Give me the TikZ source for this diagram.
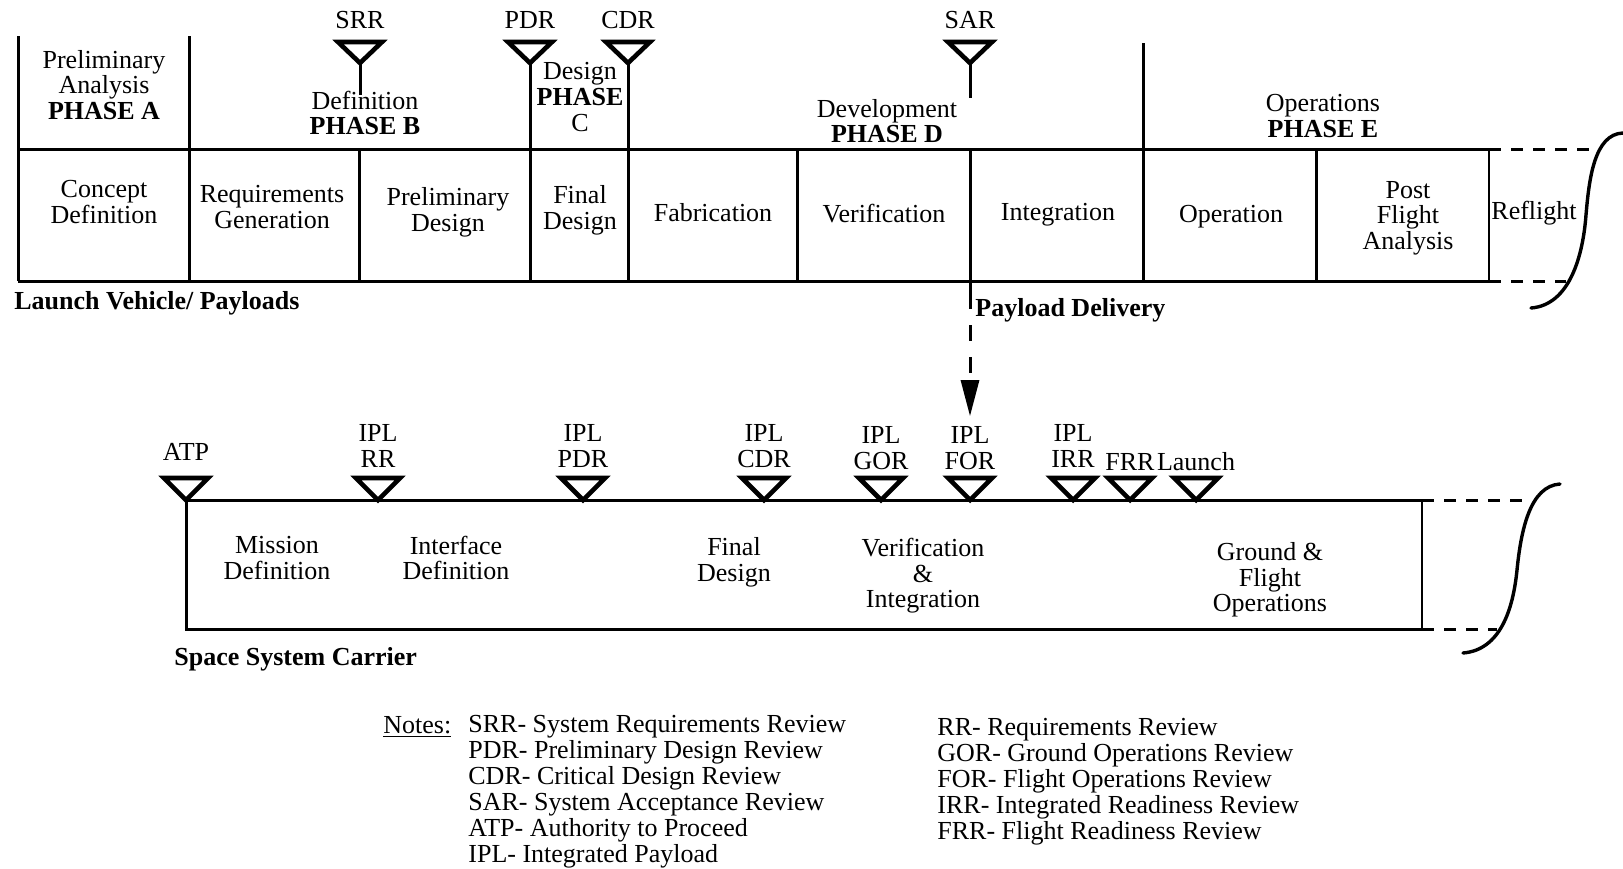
\documentclass[tikz,border=0pt]{standalone}
\usepackage{fontspec}
\setmainfont{Liberation Serif}
\usetikzlibrary{arrows.meta,positioning,calc}

\begin{document}
\begin{tikzpicture}[x=0.5pt, y=-0.5pt,
        lbl/.style={align=center, inner sep=0pt, font=\fontsize{13}{12.8}\selectfont},
        head/.style={lbl, anchor=west, font=\fontsize{13}{12.8}\selectfont\bfseries},
        note/.style={lbl, align=left, anchor=west, font=\fontsize{13}{13}\selectfont},
        rule/.style={line width=1.5pt},
        fine/.style={line width=1.1pt},
        mstone/.style={line width=2.3pt, line join=miter},
        ext/.style={line width=1.5pt, dash pattern=on 6pt off 5pt},
        brace/.style={line width=1.7pt, line cap=round},
        arr/.style={-{Triangle[length=18pt, width=9pt]}, line width=1.5pt,
                    dash pattern=on 8pt off 8pt, shorten >=5pt}]
  \useasboundingbox (0,0) rectangle (1623,868);

  % launch vehicle / payloads
  \draw[rule] (18,36) -- (18,281) (189,36) -- (189,281) (1143,43) -- (1143,281);
  \draw[rule] (18,149) -- (1489,149) (18,281) -- (1489,281);
  \draw[rule] (359,149) -- (359,281) (797,149) -- (797,281) (1316,149) -- (1316,281);
  \draw[fine] (1489,149) -- (1489,281);
  \draw[ext] (1489,149) -- (1600,149) (1489,281) -- (1566,281);
  \draw[brace] (1623,133) .. controls (1594,134) and (1589,180) .. (1586,215)
                          .. controls (1583,255) and (1570,305) .. (1531,308);

  \foreach \x/\n/\t in {360/srr/SRR, 530/pdr/PDR, 628/cdr/CDR, 970/sar/SAR}{
    \draw[mstone] (\x-22,42) -- (\x+22,42) -- (\x,63) coordinate (\n) -- cycle;
    \node[lbl] (\n-l) at (\x,20) {\t};
  }
  \draw[rule] (srr) -- ++(0,32) (pdr) -- (530,281) (cdr) -- (628,281) (sar) -- ++(0,35);
  \draw[rule] (970,149) -- (970,293) coordinate (pd);

  \node[lbl] (ph-a) at (104,85) {Preliminary\\Analysis\\\textbf{PHASE A}};
  \node[lbl] (ph-b) at (365,113) {Definition\\\textbf{PHASE B}};
  \node[lbl] (ph-c) at (580,97) {Design\\\textbf{PHASE}\\C};
  \node[lbl] (ph-d) at (887,121) {Development\\\textbf{PHASE D}};
  \node[lbl] (ph-e) at (1323,116) {Operations\\\textbf{PHASE E}};

  \node[lbl] (concept) at (104,202) {Concept\\Definition};
  \node[lbl] (reqgen) at (272,207) {Requirements\\Generation};
  \node[lbl] (prelim) at (448,212) {Preliminary\\Design};
  \node[lbl] (final) at (580,210) {Final\\Design};
  \node[lbl] (fab) at (713,213) {Fabrication};
  \node[lbl] (verif) at (884,214) {Verification};
  \node[lbl] (integ) at (1058,215) {Integration};
  \node[lbl] (oper) at (1231,217) {Operation};
  \node[lbl] (post) at (1408,218) {Post\\Flight\\Analysis};
  \node[lbl] (refl) at (1534,213) {Reflight};

  \node[head] (lvp) at (14,303) {Launch Vehicle/ Payloads};
  \node[head] (pdl) at (975,310) {Payload Delivery};

  % space system carrier
  \draw[rule] (186,500) -- (1422,500) (186,500) -- (186,629) -- (1422,629);
  \draw[fine] (1422,500) -- (1422,629);
  \draw[ext] (1422,500) -- (1530,500) (1422,629) -- (1497,629);
  \draw[brace] (1560,484) .. controls (1530,486) and (1521,530) .. (1517,570)
                          .. controls (1513,610) and (1500,650) .. (1463,653);

  \foreach \x/\y/\n/\t in {186/452/atp/ATP, 378/446/rr/{IPL\\RR}, 583/446/ipdr/{IPL\\PDR},
      764/446/icdr/{IPL\\CDR}, 881/448/gor/{IPL\\GOR}, 970/448/for/{IPL\\FOR},
      1073/446/irr/{IPL\\IRR}, 1130/462/frr/FRR, 1196/462/launch/Launch}{
    \draw[mstone] (\x-22,478) -- (\x+22,478) -- (\x,500) coordinate (\n) -- cycle;
    \node[lbl] (\n-l) at (\x,\y) {\t};
  }
  \draw[arr] (pd) -- (for-l);

  \node[lbl] (mission) at (277,558) {Mission\\Definition};
  \node[lbl] (iface) at (456,558) {Interface\\Definition};
  \node[lbl] (lfinal) at (734,562) {Final\\Design};
  \node[lbl] (vandi) at (923,576) {Verification\\\&\\Integration};
  \node[lbl] (gfo) at (1270,580) {Ground \&\\Flight\\Operations};

  \node[head] (ssc) at (174,659) {Space System Carrier};

  % notes
  \node[note] (notes) at (383,727) {\underline{Notes:}};
  \node[note] (defs-a) at (468,792) {SRR- System Requirements Review\\
      PDR- Preliminary Design Review\\CDR- Critical Design Review\\
      SAR- System Acceptance Review\\ATP- Authority to Proceed\\IPL- Integrated Payload};
  \node[note] (defs-b) at (937,782) {RR- Requirements Review\\
      GOR- Ground Operations Review\\FOR- Flight Operations Review\\
      IRR- Integrated Readiness Review\\FRR- Flight Readiness Review};
\end{tikzpicture}
\end{document}
